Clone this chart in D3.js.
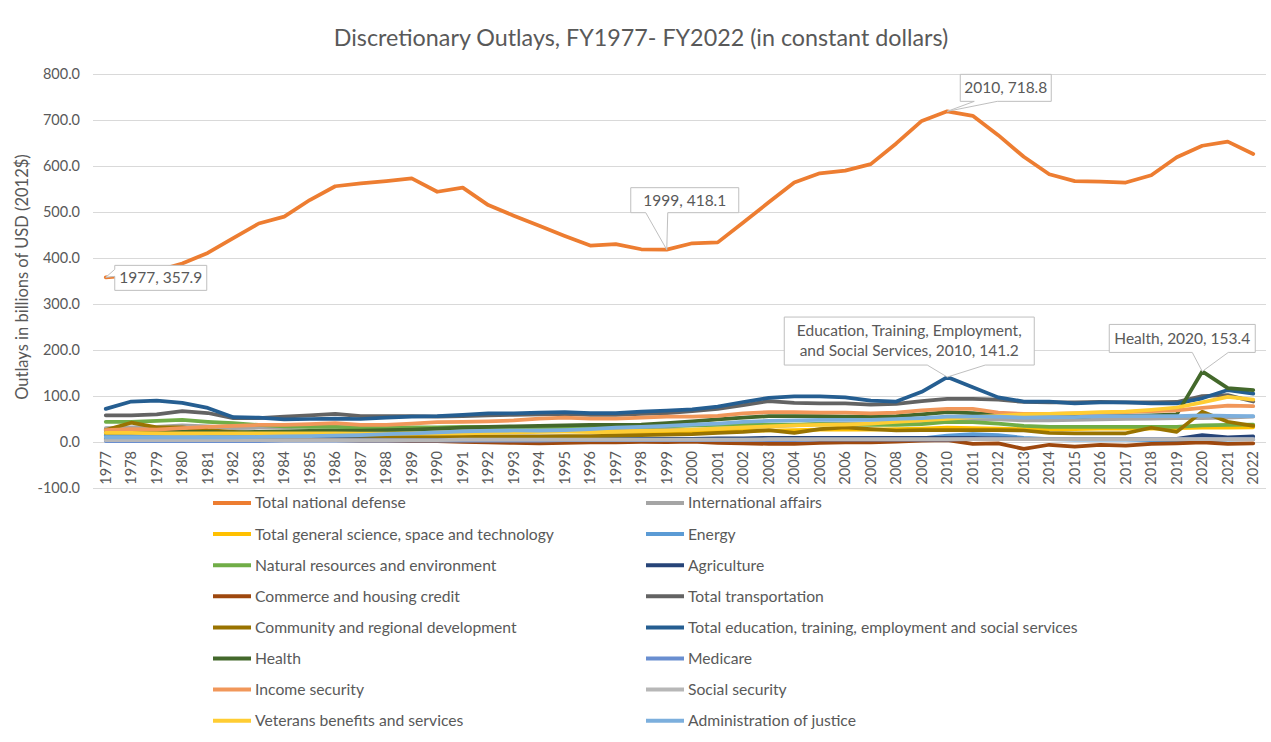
<!DOCTYPE html>
<html><head><meta charset="utf-8">
<script src="https://cdn.jsdelivr.net/npm/d3@7"></script>
<style>
body{margin:0;background:#fff}
text{font-family:Lato,"Open Sans",sans-serif;fill:#595959}
</style>
</head><body>
<svg id="c" width="1271" height="742"></svg>
<script>
const years = [1977,1978,1979,1980,1981,1982,1983,1984,1985,1986,1987,1988,1989,1990,1991,1992,1993,1994,1995,1996,1997,1998,1999,2000,2001,2002,2003,2004,2005,2006,2007,2008,2009,2010,2011,2012,2013,2014,2015,2016,2017,2018,2019,2020,2021,2022];
const yTicks = [-100,0,100,200,300,400,500,600,700,800];

const totalNationalDefense = [357.9,362,372,388,411,443,475,490,526,556, 562,567,573,544,553,515,492,470,448,427, 430,419,418.1,432,434,477,521,564,584,590, 604,649,698,718.8,709,667,620,582,567,566, 564,580,619,644,653,626];
const internationalAffairs = [30,32,33,36,34,30,31,32,34,32, 28,27,27,27,27,27,27,26,26,25, 24,26,27,27,28,30,34,36,40,40, 40,42,45,49,50,49,47,47,48,49, 50,51,52,52,53,55];
const generalScience = [18,18,18,18,18,17,17,17,18,18, 18,19,20,21,22,22,22,23,23,22, 22,22,22,22,23,24,25,26,27,27, 27,28,29,31,30,29,28,28,28,29, 29,29,30,31,31,32];
const energy = [14,16,17,18,17,14,12,11,11,10, 9,9,8,8,8,8,8,8,8,7, 7,7,7,7,7,7,7,6,6,6, 6,6,8,14,17,15,9,6,5,5, 5,4,4,4,5,6];
const naturalResources = [44,44,46,48,44,41,37,34,33,33, 32,32,32,32,33,33,33,33,33,32, 32,33,34,36,37,38,38,38,39,38, 37,37,39,44,43,40,35,33,33,33, 33,33,33,36,37,38];
const agriculture = [5,6,6,6,5,5,6,6,6,6, 6,6,6,6,6,6,6,6,6,6, 6,6,7,7,8,8,9,9,9,9, 9,9,9,9,9,8,7,7,7,7, 7,7,7,15,10,12];
const commerceHousing = [8,7,6,6,5,4,4,4,4,4, 3,3,2,2,0,-1,-2,-3,-2,-1, -1,0,0,1,-2,-3,-4,-4,-2,-1, -1,1,3,4,-4,-3,-15,-6,-10,-6, -8,-4,-3,-1,-4,-3];
const totalTransportation = [58,58,60,67,63,52,52,55,58,61, 56,56,56,55,56,58,59,60,61,59, 59,61,63,67,72,80,89,85,84,84, 81,83,89,94,94,92,87,86,86,87, 86,86,87,100,102,88];
const communityRegional = [26,42,32,32,26,22,19,17,16,15, 14,13,12,12,12,12,12,12,13,13, 14,15,16,17,20,22,26,20,28,32, 28,25,26,26,26,26,25,20,19,19, 19,31,22,66,44,35];
const totalEducation = [72,88,90,85,74,54,53,49,50,51, 50,53,55,56,59,62,62,64,65,63, 63,66,68,71,77,87,96,99,99,97, 90,88,109,141.2,119,97,88,88,84,86, 86,84,84,95,113,105];
const health = [20,21,22,22,22,21,22,23,24,24, 25,26,27,29,31,33,34,35,36,37, 37,38,41,45,49,53,56,56,56,55, 55,56,60,65,63,59,55,54,55,57, 57,58,60,153.4,117,113];
const medicare = [2,2,2,2,2,2,2,3,3,3, 3,3,3,3,3,3,3,3,4,4, 4,4,4,4,4,4,4,4,5,5, 5,5,5,5,6,6,6,6,6,6, 6,6,6,6,6,6];
const incomeSecurity = [26,28,27,30,33,35,37,37,39,41, 37,37,40,43,44,45,47,51,53,51, 51,53,55,55,57,62,65,65,64,64, 62,64,69,72,72,64,61,61,62,63, 65,67,69,74,79,78];
const socialSecurity = [4,4,4,4,4,4,4,4,4,4, 4,4,4,4,5,5,5,5,5,5, 5,5,5,5,5,5,6,6,6,6, 6,6,6,6,6,6,6,6,6,6, 6,6,6,6,6,6];
const veteransBenefits = [20,20,19,19,19,19,19,19,19,19, 18,18,18,18,19,20,21,22,23,23, 23,24,25,27,29,32,34,36,37,38, 40,44,47,50,54,57,60,61,63,65, 66,70,75,86,98,92];
const adminJustice = [10,10,10,10,10,10,11,12,13,14, 15,17,19,21,23,24,25,25,26,28, 31,33,35,38,40,44,46,47,48,48, 48,50,52,55,55,55,53,54,54,56, 56,56,56,58,57,56];

const seriesNames = ["Total national defense","International affairs","Total general science, space and technology","Energy","Natural resources and environment","Agriculture","Commerce and housing credit","Total transportation","Community and regional development","Total education, training, employment and social services","Health","Medicare","Income security","Social security","Veterans benefits and services","Administration of justice"];
const seriesValues = [totalNationalDefense,internationalAffairs,generalScience,energy,naturalResources,agriculture,commerceHousing,totalTransportation,communityRegional,totalEducation,health,medicare,incomeSecurity,socialSecurity,veteransBenefits,adminJustice];
const seriesColors = ["#ED7D31","#A5A5A5","#FFC000","#5B9BD5","#70AD47","#264478","#9E480E","#636363","#997300","#255E91","#43682B","#698ED0","#F1975A","#B7B7B7","#FFCD33","#7CAFDD"];

const annotations = [
  {series:0, year:1977, lines:["1977, 357.9"]},
  {series:0, year:1999, lines:["1999, 418.1"]},
  {series:0, year:2010, lines:["2010, 718.8"]},
  {series:9, year:2010, lines:["Education, Training, Employment,","and Social Services, 2010, 141.2"]},
  {series:10, year:2020, lines:["Health, 2020, 153.4"]}
];
// layout of callout boxes relative to their point: box offset/size, wedge base
const calloutLayout = [
  {dx:9, dy:-12, w:92, h:25, side:"left", w1:-8, w2:-1},
  {dx:-36, dy:-62, w:108, h:25, side:"bottom", w1:-21, w2:1},
  {dx:13, dy:-37, w:91, h:27, side:"bottom", w1:27, w2:50},
  {dx:-163, dy:-60, w:250, h:48, side:"bottom", w1:-20, w2:38},
  {dx:-93, dy:-47, w:146, h:28, side:"bottom", w1:-10, w2:26}
];

const svg = d3.select("#c");
svg.append("rect").attr("width",1271).attr("height",742).attr("fill","#fff");

const x = d3.scalePoint().domain(years).range([93,1266]).padding(0.5);
const y = d3.scaleLinear().domain([-100,800]).range([488,74]);
const fmt = d => d3.format(".1f")(d).replace("\u2212","-");

// gridlines
svg.append("g").selectAll("line").data(yTicks).join("line")
  .attr("x1",93).attr("x2",1266)
  .attr("y1",d=>Math.round(y(d))+0.5).attr("y2",d=>Math.round(y(d))+0.5)
  .attr("stroke","#D9D9D9").attr("stroke-width",1);

// y tick labels
svg.append("g").selectAll("text").data(yTicks).join("text")
  .attr("x",80).attr("y",d=>y(d)).attr("dy","0.35em")
  .attr("text-anchor","end").attr("font-size",14.5)
  .text(d=>fmt(d));

// x tick labels (axis crosses at 0)
svg.append("g").selectAll("text").data(years).join("text")
  .attr("transform",d=>`translate(${x(d)},${y(0)+9}) rotate(-90)`)
  .attr("dy","0.35em").attr("text-anchor","end").attr("font-size",14.5)
  .text(d=>d);

// title
svg.append("text").attr("x",641).attr("y",38).attr("dy","0.35em")
  .attr("text-anchor","middle").attr("font-size",23.3).text("Discretionary Outlays, FY1977- FY2022 (in constant dollars)");

// y axis title
svg.append("text").attr("transform",`translate(22,${(y(-100)+y(800))/2-4}) rotate(-90)`)
  .attr("dy","0.35em").attr("text-anchor","middle").attr("font-size",16.5)
  .text("Outlays in billions of USD (2012$)");

// lines
const line = d3.line().x((d,i)=>x(years[i])).y(d=>y(d));
svg.append("g").selectAll("path").data(seriesValues).join("path")
  .attr("d",line).attr("fill","none")
  .attr("stroke",(d,i)=>seriesColors[i]).attr("stroke-width",3.75)
  .attr("stroke-linejoin","round").attr("stroke-linecap","round");

// callouts
const cg = svg.append("g");
annotations.forEach((a,k)=>{
  const L = calloutLayout[k];
  const px = x(a.year), py = y(seriesValues[a.series][years.indexOf(a.year)]);
  const x0 = px+L.dx, y0 = py+L.dy, x1 = x0+L.w, y1 = y0+L.h;
  let p;
  if(L.side==="bottom"){
    p = `M${x0},${y0}H${x1}V${y1}H${px+L.w2}L${px},${py}L${px+L.w1},${y1}H${x0}Z`;
  } else {
    p = `M${x0},${y0}H${x1}V${y1}H${x0}V${py+L.w2}L${px},${py}L${x0},${py+L.w1}Z`;
  }
  cg.append("path").attr("d",p).attr("fill","#fff").attr("stroke","#BFBFBF").attr("stroke-width",1);
  const n = a.lines.length;
  a.lines.forEach((t,j)=>{
    cg.append("text").attr("x",(x0+x1)/2).attr("y",(y0+y1)/2+(j-(n-1)/2)*20)
      .attr("dy","0.35em").attr("text-anchor","middle").attr("font-size",15.5).text(t);
  });
});

// legend
const lg = svg.append("g");
seriesNames.forEach((name,i)=>{
  const col = i%2, row = Math.floor(i/2);
  const lx = col===0?213:646, ly = 503+row*31.1;
  lg.append("line").attr("x1",lx).attr("x2",lx+38).attr("y1",ly).attr("y2",ly)
    .attr("stroke",seriesColors[i]).attr("stroke-width",4);
  lg.append("text").attr("x",lx+42).attr("y",ly).attr("dy","0.35em")
    .attr("font-size",15.7).text(name);
});
</script>
</body></html>
